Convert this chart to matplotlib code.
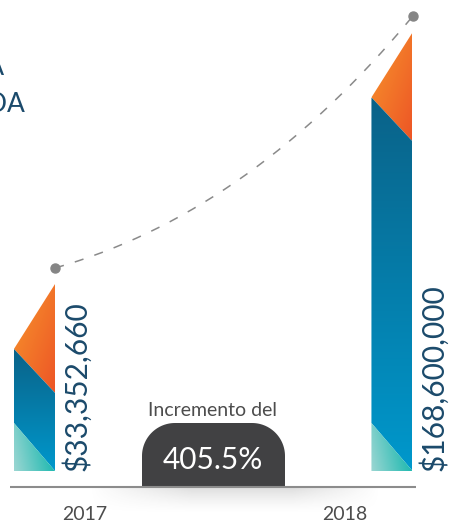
import numpy as np
import matplotlib
matplotlib.use('Agg')
import matplotlib.pyplot as plt
from matplotlib.patches import Polygon
import matplotlib.colors as mcolors

# ---------------- data ----------------
years = ['2017', '2018']
amounts = [33352660, 168600000]
amount_labels = ['$33,352,660', '$168,600,000']
increase_pct = 405.5
increase_caption = 'Incremento del'
title_lines = ['INVERSIÓN TOTAL EJECUTADA', 'EN INFRAESTRUCTURA PROGRAMADA']

# ---------------- style ----------------
W, H, DPI = 452, 522, 100
FONT = 'Lato'
plt.rcParams['font.family'] = [FONT, 'DejaVu Sans']
PX = 357.5                     # pixels per x unit and per y decade
BASE = 1e7                     # bar base value on the log axis
BAR_W = 0.115
CAP_L, CAP_R, TEAL_H, DOT_UP = 65 / PX, 109 / PX, 48 / PX, 16 / PX
NAVY = '#1b4a6b'
GREY_TXT = '#4d4d4d'

fig = plt.figure(figsize=(W / DPI, H / DPI), dpi=DPI)
ax = fig.add_axes([0, 0, 1, 1])
ax.set_yscale('log')
ax.set_xlim(-34.5 / PX, 1 + (W - 392) / PX)
ax.set_ylim(10 ** (7 - 51 / PX), 10 ** (7 + 471 / PX))
ax.axis('off')


def lerp(c1, c2, t):
    a = np.array(mcolors.to_rgb(c1))
    b = np.array(mcolors.to_rgb(c2))
    t = np.clip(t, 0, 1)[..., None]
    return a * (1 - t) + b * t


def grad_fill(verts_log, func, z=2):
    v = np.array(verts_log)
    x0, x1 = v[:, 0].min(), v[:, 0].max()
    l0, l1 = v[:, 1].min(), v[:, 1].max()
    ys = np.linspace(10 ** l0, 10 ** l1, 600)
    vv = (np.log10(ys) - l0) / (l1 - l0)
    uu = np.linspace(0, 1, 60)
    U, V = np.meshgrid(uu, vv)
    img = func(U, V)
    data_verts = np.column_stack([v[:, 0], 10 ** v[:, 1]])
    poly = Polygon(data_verts, closed=True, facecolor='none', edgecolor='none',
                   transform=ax.transData)
    ax.add_patch(poly)
    im = ax.imshow(img, extent=[x0, x1, 10 ** l0, 10 ** l1], origin='lower',
                   aspect='auto', interpolation='bilinear', zorder=z)
    im.set_clip_path(poly)


orange_f = lambda U, V: lerp('#f7952c', '#ed5526', (U + (1 - V)) / 2)
blue_f = lambda U, V: lerp('#0098cc', '#0a6288', V)
teal_f = lambda U, V: lerp('#9ad6d2', '#00b2a8', U * 0.8 + (V) * 0.2)

for i, val in enumerate(amounts):
    xa, xb = i - BAR_W / 2, i + BAR_W / 2
    L, T = np.log10(BASE), np.log10(val)
    grad_fill([(xa, T - CAP_L), (xb, T), (xb, T - CAP_R)], orange_f)
    grad_fill([(xa, T - CAP_L), (xb, T - CAP_R), (xb, L), (xa, L + TEAL_H)], blue_f)
    grad_fill([(xa, L + TEAL_H), (xb, L), (xa, L)], teal_f)
    ax.text(xb + 21 / PX, BASE, amount_labels[i], rotation=90, ha='center',
            va='bottom', color=NAVY, fontsize=21.5, zorder=5)

# dashed connector curve (quadratic bezier in log space)
p0 = np.array([0 + BAR_W / 2, np.log10(amounts[0]) + DOT_UP])
p2 = np.array([1 + BAR_W / 2, np.log10(amounts[1]) + DOT_UP])
p1 = np.array([p0[0] + 0.546 * (p2[0] - p0[0]), p0[1] + 0.22 * (p2[1] - p0[1])])
t = np.linspace(0, 1, 200)[:, None]
curve = (1 - t) ** 2 * p0 + 2 * (1 - t) * t * p1 + t ** 2 * p2
ax.plot(curve[:, 0], 10 ** curve[:, 1], color='#8a8a8a', lw=1.1,
        dashes=(6, 7.5), zorder=3)
ax.plot([p0[0], p2[0]], [10 ** p0[1], 10 ** p2[1]], 'o', color='#858585',
        ms=6.5, zorder=4)

# ---------------- overlay in pixel coordinates ----------------
ov = fig.add_axes([0, 0, 1, 1], facecolor='none')
ov.set_xlim(0, W)
ov.set_ylim(H, 0)
ov.axis('off')

# soft shadow under the baseline
sx = np.linspace(0, 1, 300)
sy = np.linspace(0, 1, 40)
SX, SY = np.meshgrid(sx, sy)
alpha = 0.28 * (1 - SY) ** 1.5 * np.clip(np.minimum(SX / 0.35, (1 - SX) / 0.3), 0, 1)
shadow = np.zeros(SX.shape + (4,))
shadow[..., :3] = 0.55
shadow[..., 3] = alpha
ov.imshow(shadow, extent=[90, 380, 514, 488], origin='upper', aspect='auto',
          interpolation='bilinear', zorder=1)

ov.plot([10, 416], [487, 487], color='#8c8c8c', lw=1.5, zorder=3,
        solid_capstyle='butt')

# rounded tab
lft, rgt, top, bot, r = 142, 285, 423, 487, 33
th1 = np.linspace(np.pi, np.pi / 2, 30)
th2 = np.linspace(np.pi / 2, 0, 30)
pts = [(lft, bot)]
pts += list(zip(lft + r + r * np.cos(th1), top + r - r * np.sin(th1)))
pts += list(zip(rgt - r + r * np.cos(th2), top + r - r * np.sin(th2)))
pts += [(rgt, bot)]
ov.add_patch(Polygon(pts, closed=True, facecolor='#414143', edgecolor='none', zorder=2))
ov.text(213, 460, f'{increase_pct}%', ha='center', va='center', color='white',
        fontsize=21.5, zorder=4)
ov.text(213, 411, increase_caption, ha='center', va='center', color=GREY_TXT,
        fontsize=14, zorder=4)

# years
for xp, yr in zip([85, 345], years):
    ov.text(xp, 514, yr, ha='center', va='center', color=GREY_TXT, fontsize=14)

# clipped title
ov.text(4, 75, title_lines[0], ha='right', va='baseline', color=NAVY, fontsize=19)
ov.text(25, 112, title_lines[1], ha='right', va='baseline', color=NAVY, fontsize=19)

fig.savefig('out.png', dpi=DPI)
